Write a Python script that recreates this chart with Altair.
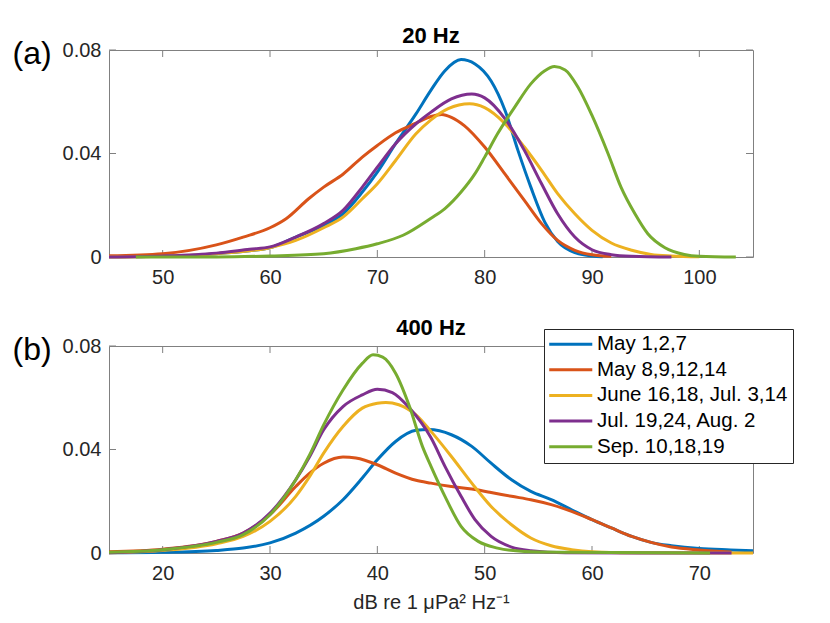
import altair as alt
import pandas as pd

series = ["May 1,2,7", "May 8,9,12,14", "June 16,18, Jul. 3,14",
          "Jul. 19,24, Aug. 2", "Sep. 10,18,19"]
colors = ["#0072BD", "#D95319", "#EDB120", "#7E2F8E", "#77AC30"]

# ---- Panel (a): 20 Hz ----
a_blue_x = [45, 50, 55, 60, 62.4, 65, 66.8, 68.6, 70, 71.7, 73.6, 75, 76.3, 77.8, 79.1, 80.6, 81.9, 83.1, 84.3, 85.6, 86.8, 88.4, 90, 91]
a_blue_y = [0.0001, 0.0003, 0.0013, 0.0036, 0.0077, 0.0122, 0.0167, 0.0251, 0.0328, 0.0438, 0.0553, 0.0645, 0.072, 0.0763, 0.0746, 0.068, 0.0566, 0.0412, 0.027, 0.0135, 0.006, 0.0017, 0.0004, 0.0001]
a_red_x = [45, 50, 55, 57.5, 60, 61.5, 63.6, 65, 66.8, 68.6, 70, 71.7, 73.6, 75, 76, 76.9, 78.1, 80, 81.9, 83.7, 85.3, 86.8, 88.4, 90, 91.8]
a_red_y = [0.0005, 0.0013, 0.0047, 0.0077, 0.0113, 0.0148, 0.0225, 0.027, 0.032, 0.0386, 0.0431, 0.048, 0.0517, 0.0543, 0.0551, 0.054, 0.0508, 0.0425, 0.032, 0.0219, 0.0129, 0.0064, 0.0026, 0.0009, 0.0003]
a_yellow_x = [45, 50, 55, 60, 62.4, 65, 66.8, 68.6, 70, 71.7, 73.6, 75, 76.6, 78.6, 80, 81.9, 83.7, 85.3, 86.8, 88.4, 90, 91.8, 93.7, 95.5, 97.4, 100]
a_yellow_y = [0, 0.0003, 0.0013, 0.0036, 0.0064, 0.0113, 0.0154, 0.0225, 0.0283, 0.0373, 0.0476, 0.053, 0.0573, 0.0592, 0.0577, 0.0515, 0.0425, 0.0335, 0.0245, 0.0167, 0.0103, 0.0054, 0.0026, 0.001, 0.0004, 0.0001]
a_purple_x = [45, 50, 55, 58.1, 60, 62.4, 65, 66.8, 68.6, 70, 71.7, 73.6, 75, 76.9, 78.8, 80, 81.9, 83.7, 85.3, 86.8, 88.4, 90, 91.8, 93.7, 97.4]
a_purple_y = [0, 0.0004, 0.0015, 0.003, 0.0039, 0.0077, 0.0129, 0.018, 0.027, 0.0347, 0.0438, 0.0515, 0.056, 0.0611, 0.063, 0.0615, 0.0534, 0.0412, 0.0283, 0.0167, 0.0077, 0.0028, 0.0009, 0.0003, 0]
a_green_x = [47.5, 55, 60, 65, 68, 70, 72.4, 75, 76.3, 77.8, 79.1, 80, 81.2, 82.8, 84.3, 85.6, 86.5, 87.5, 88.7, 90, 91.5, 92.7, 94, 95.2, 96.8, 98.6, 100, 103.4]
a_green_y = [0, 0, 0.0004, 0.0013, 0.0032, 0.0051, 0.0084, 0.015, 0.0187, 0.0251, 0.0322, 0.0386, 0.0476, 0.0579, 0.0669, 0.072, 0.0736, 0.0723, 0.0656, 0.0547, 0.0399, 0.027, 0.0167, 0.009, 0.0036, 0.001, 0.0003, 0]

# ---- Panel (b): 400 Hz ----
b_blue_x = [15, 20, 25, 27.5, 30, 32.4, 35, 36.8, 38.6, 40, 41.7, 43.6, 44.8, 46.9, 48.8, 50.6, 52.5, 54.3, 56.2, 58.1, 60, 61.8, 63.7, 65.5, 67.4, 70, 72.9, 75]
b_blue_y = [0.0001, 0.0003, 0.001, 0.0019, 0.0039, 0.0077, 0.0142, 0.0206, 0.029, 0.036, 0.0431, 0.0474, 0.0477, 0.0457, 0.0412, 0.0347, 0.0283, 0.0238, 0.0206, 0.0167, 0.0129, 0.0097, 0.0064, 0.0041, 0.0028, 0.0017, 0.0012, 0.0009]
b_red_x = [15, 20, 25, 27.5, 30, 32.4, 33.7, 35, 36.8, 38, 40, 41.7, 43.6, 45, 46.9, 48.8, 50.6, 52.5, 54.3, 56.2, 58.1, 60, 61.8, 63.7, 65.5, 67.4, 70, 73]
b_red_y = [0.0005, 0.0015, 0.0045, 0.0077, 0.0148, 0.0257, 0.0309, 0.0347, 0.0371, 0.0367, 0.0341, 0.0309, 0.0281, 0.027, 0.0257, 0.0247, 0.0234, 0.0219, 0.0206, 0.0187, 0.0161, 0.0129, 0.0097, 0.0064, 0.0041, 0.0023, 0.0012, 0.0004]
b_yellow_x = [15, 20, 25, 27.5, 30, 32.4, 33.7, 35, 36.8, 38.6, 40, 40.8, 42, 43.6, 45, 46.9, 48.8, 50.6, 52.5, 54.3, 56.2, 58.1, 60, 63.7, 75]
b_yellow_y = [0.0001, 0.001, 0.0036, 0.0064, 0.0122, 0.0219, 0.0296, 0.0386, 0.0489, 0.056, 0.0579, 0.0582, 0.0573, 0.0534, 0.047, 0.0373, 0.027, 0.018, 0.0109, 0.0058, 0.0028, 0.0013, 0.0005, 0.0001, 0]
b_purple_x = [15, 20, 25, 27.5, 30, 32.4, 33.7, 35, 36.8, 38.6, 40, 41.4, 43, 45, 46.3, 47.8, 49.1, 50.6, 52.5, 54.3, 57.5, 73]
b_purple_y = [0.0001, 0.0013, 0.0045, 0.0077, 0.0154, 0.0283, 0.0373, 0.0476, 0.0566, 0.0611, 0.0633, 0.062, 0.056, 0.0445, 0.0335, 0.0219, 0.0129, 0.0064, 0.0023, 0.0009, 0.0001, 0]
b_green_x = [15, 20, 25, 27.5, 30, 32.4, 33.7, 35, 36.8, 38.6, 39.6, 40.5, 41.7, 43, 44.2, 45, 46.3, 47.8, 49.4, 51.2, 53.7, 57.5, 71]
b_green_y = [0.0003, 0.0013, 0.0041, 0.0071, 0.0148, 0.0283, 0.038, 0.0495, 0.063, 0.0733, 0.0766, 0.0757, 0.0695, 0.0566, 0.0412, 0.0335, 0.0219, 0.0103, 0.0045, 0.0019, 0.0006, 0.0003, 0]

a_xticks = [50, 60, 70, 80, 90, 100]
b_xticks = [20, 30, 40, 50, 60, 70]
yticks = [0, 0.04, 0.08]

FONT = "Liberation Sans"
AX = "#262626"
BOX = "#808080"
W, H = 644, 207
TL = 7


def make_df(xs_list, ys_list):
    rows = []
    for k, (xs, ys) in enumerate(zip(xs_list, ys_list)):
        for xv, yv in zip(xs, ys):
            rows.append({"series": series[k], "order": k, "x": xv, "y": yv})
    return pd.DataFrame(rows)


df_a = make_df([a_blue_x, a_red_x, a_yellow_x, a_purple_x, a_green_x],
               [a_blue_y, a_red_y, a_yellow_y, a_purple_y, a_green_y])
df_b = make_df([b_blue_x, b_red_x, b_yellow_x, b_purple_x, b_green_x],
               [b_blue_y, b_red_y, b_yellow_y, b_purple_y, b_green_y])


def panel(df, xdom, xticks, title, tag, xtitle, legend):
    xscale = alt.Scale(domain=xdom, nice=False, zero=False)
    yscale = alt.Scale(domain=[0, 0.08], nice=False, zero=False)
    xaxis_kw = dict(values=xticks, ticks=False, domain=False, grid=False,
                    labelFontSize=20, labelColor=AX, labelFont=FONT,
                    labelPadding=10, format="d")
    if xtitle:
        xaxis_kw.update(title=xtitle, titleFontSize=20, titleFontWeight="normal",
                        titleColor=AX, titleFont=FONT, titlePadding=9)
    else:
        xaxis_kw.update(title=None)
    xenc = alt.X("x:Q", scale=xscale, axis=alt.Axis(**xaxis_kw))
    yenc = alt.Y("y:Q", scale=yscale, axis=alt.Axis(
        values=yticks, format=".2~f", ticks=False, domain=False, grid=False,
        labelFontSize=20, labelColor=AX, labelFont=FONT, labelPadding=8,
        title=tag, titleAngle=0, titleX=-97, titleY=3, titleAlign="left",
        titleBaseline="middle", titleFontSize=32, titleFontWeight="normal",
        titleColor="#000000", titleFont=FONT))
    if legend:
        leg = alt.Legend(title=None, orient="none", legendX=435, legendY=-17,
                         symbolType="M-3,0H3", symbolSize=206, symbolStrokeWidth=3,
                         symbolOffset=11.5, labelOffset=16,
                         labelFontSize=20.5, labelFont=FONT, labelColor="#000000",
                         fillColor="white", strokeColor=AX, padding=5,
                         rowPadding=4.6, labelLimit=400)
    else:
        leg = None
    cenc = alt.Color("series:N", scale=alt.Scale(domain=series, range=colors),
                     sort=series, legend=leg)
    lines = alt.Chart(df).mark_line(strokeWidth=3, interpolate="monotone").encode(
        x=xenc, y=yenc, color=cenc, order=alt.Order("order:Q"))

    xt = pd.DataFrame({"x": xticks})
    yt = pd.DataFrame({"y": yticks})
    tb = alt.Chart(xt).mark_rule(color=BOX, strokeWidth=1).encode(
        x="x:Q", y=alt.value(H), y2=alt.value(H - TL))
    tt = alt.Chart(xt).mark_rule(color=BOX, strokeWidth=1).encode(
        x="x:Q", y=alt.value(0), y2=alt.value(TL))
    tl = alt.Chart(yt).mark_rule(color=BOX, strokeWidth=1).encode(
        y="y:Q", x=alt.value(0), x2=alt.value(TL))
    tr = alt.Chart(yt).mark_rule(color=BOX, strokeWidth=1).encode(
        y="y:Q", x=alt.value(W), x2=alt.value(W - TL))

    return alt.layer(tb, tt, tl, tr, lines).properties(
        width=W, height=H,
        title=alt.TitleParams(title, fontSize=22, fontWeight="bold", font=FONT,
                              color="#000000", frame="group", offset=-28,
                              baseline="alphabetic"))


pa = panel(df_a, [45, 105], a_xticks, "20 Hz", "(a)", None, False)
pb = panel(df_b, [15, 75], b_xticks, "400 Hz", "(b)", "dB re 1 \u03bcPa\u00b2 Hz\u207b\u00b9", True)

chart = alt.vconcat(pa, pb, spacing=28).resolve_scale(color="independent").resolve_legend(
    color="independent").properties(
    padding={"left": 3, "top": 16, "right": 5, "bottom": 0},
    background="white").configure_view(stroke=BOX, strokeWidth=1)

chart.save("out.html", embed_options={"renderer": "svg", "actions": False})
